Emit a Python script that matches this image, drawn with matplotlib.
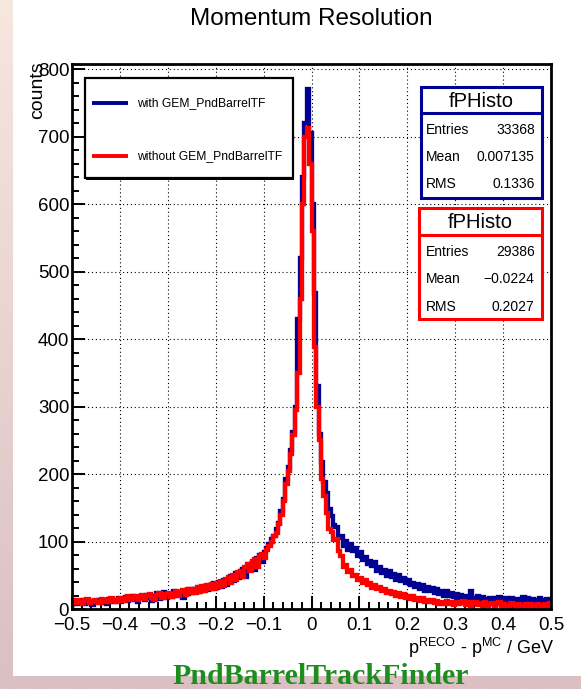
import numpy as np
import matplotlib
matplotlib.use("Agg")
import matplotlib.pyplot as plt
from matplotlib.patches import Rectangle
from matplotlib.ticker import MultipleLocator, FuncFormatter
from matplotlib.colors import LinearSegmentedColormap

plt.rcParams['font.family'] = ['Liberation Sans', 'DejaVu Sans']

# histogram binning
x_min, x_max, n_bins = -0.5, 0.5, 200

# counts per bin, with GEM_PndBarrelTF
with_gem = [
    8, 12, 7, 10, 13, 8, 11, 9, 6, 12,
    10, 14, 9, 13, 8, 15, 11, 10, 14, 16,
    11, 15, 18, 12, 16, 19, 13, 11, 17, 20,
    14, 21, 17, 12, 19, 23, 15, 20, 25, 17,
    22, 18, 26, 19, 25, 21, 17, 27, 22, 29,
    23, 30, 25, 33, 26, 34, 28, 36, 29, 38,
    31, 40, 33, 43, 35, 45, 49, 41, 53, 46,
    56, 59, 48, 63, 67, 70, 58, 76, 80, 70,
    84, 90, 96, 104, 108, 118, 128, 145, 163, 192,
    210, 235, 262, 300, 430, 520, 640, 720, 771, 705,
    600, 468, 330, 260, 218, 188, 172, 148, 138, 124,
    122, 106, 108, 94, 101, 88, 97, 86, 90, 78,
    84, 73, 77, 66, 71, 64, 69, 57, 62, 53,
    58, 49, 56, 47, 52, 43, 50, 41, 46, 39,
    43, 35, 39, 32, 37, 29, 35, 27, 33, 26,
    31, 24, 29, 22, 27, 20, 26, 19, 24, 18,
    22, 17, 21, 14, 19, 15, 27, 16, 13, 19,
    12, 18, 15, 11, 17, 10, 16, 11, 18, 12,
    9, 16, 11, 17, 12, 8, 15, 10, 18, 12,
    16, 10, 15, 9, 14, 17, 8, 13, 15, 10,
]

# counts per bin, without GEM_PndBarrelTF
without_gem = [
    13, 9, 14, 10, 8, 13, 15, 9, 12, 14,
    11, 9, 15, 10, 14, 11, 17, 12, 10, 15,
    17, 12, 16, 19, 13, 17, 20, 14, 18, 21,
    15, 19, 22, 16, 14, 21, 23, 17, 16, 22,
    24, 18, 22, 27, 19, 25, 28, 21, 29, 23,
    30, 24, 32, 25, 34, 27, 35, 29, 37, 30,
    39, 32, 41, 34, 44, 47, 38, 50, 43, 55,
    57, 48, 62, 66, 56, 71, 74, 62, 79, 82,
    76, 88, 93, 100, 108, 112, 126, 140, 160, 186,
    205, 230, 258, 295, 350, 460, 600, 700, 713, 660,
    560, 388, 300, 250, 192, 168, 142, 118, 114, 103,
    104, 86, 79, 63, 65, 55, 58, 49, 51, 43,
    46, 38, 43, 35, 39, 31, 36, 29, 33, 26,
    30, 23, 27, 22, 25, 19, 24, 18, 22, 17,
    20, 15, 19, 14, 17, 12, 16, 11, 14, 10,
    14, 9, 12, 8, 11, 7, 12, 8, 10, 6,
    11, 7, 9, 12, 6, 10, 5, 9, 11, 6,
    9, 5, 10, 4, 8, 9, 5, 8, 10, 4,
    8, 5, 3, 9, 6, 4, 8, 5, 3, 7,
    4, 7, 3, 5, 8, 4, 2, 7, 5, 9,
]

legend_labels = ["with GEM_PndBarrelTF", "without GEM_PndBarrelTF"]
stat_names = ["Entries", "Mean", "RMS"]
stats_with = ["33368", "0.007135", "0.1336"]
stats_without = ["29386", "\u22120.0224", "0.2027"]

navy = '#000092'
red = '#ff0000'

fig = plt.figure(figsize=(5.81, 6.89), dpi=100)

# page background: soft gradient with a white canvas on top
bg = fig.add_axes([0, 0, 1, 1], zorder=-10)
grad = np.linspace(0, 1, 256).reshape(-1, 1)
cmap = LinearSegmentedColormap.from_list('page', ['#f6e7df', '#e9d3d0', '#dbbfc3'])
bg.imshow(grad, aspect='auto', cmap=cmap, extent=[0, 1, 0, 1], origin='upper')
bg.add_patch(Rectangle((13 / 581, 13 / 689), 1 - 13 / 581, 1 - 13 / 689,
                       facecolor='white', edgecolor='none'))
bg.set_xlim(0, 1)
bg.set_ylim(0, 1)
bg.axis('off')

ax = fig.add_axes([72 / 581, 80 / 689, 479 / 581, 545 / 689])
edges = np.linspace(x_min, x_max, n_bins + 1)
ax.stairs(with_gem, edges, color=navy, lw=3.1, zorder=3)
ax.stairs(without_gem, edges, color=red, lw=3.1, zorder=4)

ax.set_xlim(x_min, x_max)
ax.set_ylim(0, 808)
ax.xaxis.set_major_locator(MultipleLocator(0.1))
ax.xaxis.set_minor_locator(MultipleLocator(0.02))
ax.yaxis.set_major_locator(MultipleLocator(100))
ax.yaxis.set_minor_locator(MultipleLocator(20))
ax.xaxis.set_major_formatter(FuncFormatter(
    lambda v, _: '0' if abs(v) < 1e-9 else f'{v:.1f}'.replace('-', '\u2212')))
ax.yaxis.set_major_formatter(FuncFormatter(lambda v, _: f'{v:.0f}'))
ax.tick_params(which='both', direction='in', top=False, right=False,
               width=1.4, color='black')
ax.tick_params(which='major', length=9.5, labelsize=13.5)
ax.tick_params(which='minor', length=5)
ax.tick_params(axis='y', pad=2)
ax.tick_params(axis='x', pad=6)
ax.grid(True, which='major', color='black', linestyle=(0, (1, 2.5)), lw=0.8)
ax.set_axisbelow(True)
for sp in ax.spines.values():
    sp.set_linewidth(2.0)
    sp.set_zorder(10)

fig.text(311 / 581, 1 - 19 / 689, 'Momentum Resolution', ha='center',
         va='center', fontsize=17.5)
fig.text(38 / 581, 1 - 61 / 689, 'counts', rotation=90, ha='center',
         va='top', fontsize=14)
ax.text(1.006, -0.0716, r'p$^{\mathregular{RECO}}$ - p$^{\mathregular{MC}}$ / GeV',
        transform=ax.transAxes, ha='right', va='center', fontsize=13)

# legend box
tr = ax.transAxes
ax.add_patch(Rectangle((0.030, 0.788), 0.434, 0.183, transform=tr,
                       facecolor='black', edgecolor='none', zorder=11))
ax.add_patch(Rectangle((0.027, 0.791), 0.434, 0.183, transform=tr,
                       facecolor='white', edgecolor='black', lw=1.6, zorder=12))
for yy, col, lab in [(0.928, navy, legend_labels[0]), (0.831, red, legend_labels[1])]:
    ax.plot([0.042, 0.117], [yy, yy], color=col, lw=2.8, transform=tr,
            zorder=13, solid_capstyle='butt')
    ax.text(0.136, yy, lab, transform=tr, fontsize=8.7, va='center',
            ha='left', zorder=13)

# statistics boxes
def stat_box(x0, x1, y_top, y_bot, y_div, y_title, rows, values, col):
    ax.add_patch(Rectangle((x0, y_bot), x1 - x0, y_top - y_bot, transform=tr,
                           facecolor='white', edgecolor=col, lw=2.2, zorder=12))
    ax.plot([x0, x1], [y_div, y_div], color=col, lw=2.2, transform=tr, zorder=13)
    ax.text((x0 + x1) / 2, y_title, 'fPHisto', transform=tr, fontsize=14.5,
            ha='center', va='center', zorder=13)
    for yy, name, val in zip(rows, stat_names, values):
        ax.text(0.739, yy, name, transform=tr, fontsize=10, ha='left',
                va='center', zorder=13)
        ax.text(0.966, yy, val, transform=tr, fontsize=10, ha='right',
                va='center', zorder=13)

stat_box(0.7286, 0.981, 0.958, 0.754, 0.910, 0.932,
         [0.879, 0.829, 0.780], stats_with, navy)
stat_box(0.7244, 0.981, 0.736, 0.532, 0.686, 0.710,
         [0.655, 0.6055, 0.554], stats_without, red)

fig.text(321 / 581, 1 - 676 / 689, 'PndBarrelTrackFinder', ha='center',
         va='center', fontsize=21.5, color='#1f8c1f', fontweight='bold',
         family=['Liberation Serif', 'DejaVu Serif'])

fig.savefig('out.png', dpi=100)
